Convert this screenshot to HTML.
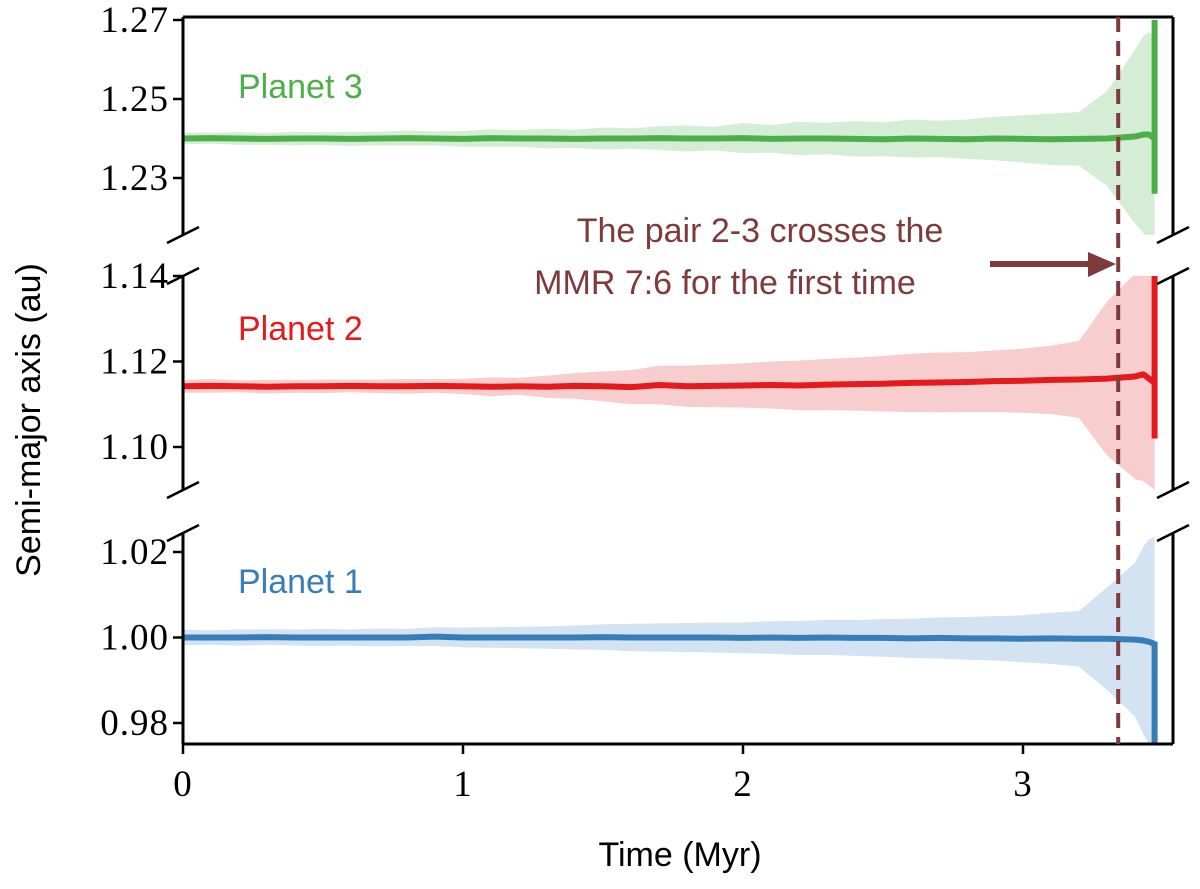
<!DOCTYPE html>
<html><head><meta charset="utf-8"><style>
body{margin:0;background:#fff;width:1200px;height:884px;overflow:hidden}
svg text{font-family:"Liberation Sans",sans-serif}
svg text.tk{font-family:"Liberation Serif",serif;font-size:37px;letter-spacing:1px}
</style></head><body>
<svg id="chart" width="1200" height="884"></svg>
<script>
const times=[0,0.1,0.2,0.3,0.4,0.5,0.6,0.7,0.8,0.9,1.0,1.1,1.2,1.3,1.4,1.5,1.6,1.7,1.8,1.9,2.0,2.1,2.2,2.3,2.4,2.5,2.6,2.7,2.8,2.9,3.0,3.1,3.2,3.3,3.4,3.43,3.45,3.47];
const p3Mean=[1.240,1.2401,1.240,1.2399,1.240,1.240,1.2399,1.240,1.2401,1.240,1.2399,1.2401,1.240,1.240,1.2399,1.240,1.240,1.2401,1.240,1.240,1.2401,1.2399,1.240,1.240,1.2399,1.2398,1.240,1.2399,1.2398,1.240,1.2399,1.2398,1.2399,1.2400,1.2405,1.2410,1.2410,1.2400];
const p3Spread=[0.0015,0.0014,0.0016,0.0015,0.0017,0.0016,0.0018,0.0017,0.0019,0.0018,0.002,0.0022,0.0021,0.0025,0.0023,0.0028,0.0026,0.003,0.0033,0.003,0.0038,0.0035,0.0042,0.004,0.0045,0.0043,0.0048,0.0046,0.005,0.0055,0.006,0.0065,0.0068,0.012,0.022,0.025,0.026,0.026];
const p2Mean=[1.1142,1.1143,1.1142,1.1141,1.1142,1.1142,1.1143,1.1142,1.1142,1.1143,1.1142,1.1141,1.1142,1.1141,1.1143,1.1142,1.1140,1.1145,1.1142,1.1143,1.1144,1.1145,1.1144,1.1146,1.1147,1.1148,1.1150,1.1151,1.1152,1.1154,1.1155,1.1157,1.1158,1.1160,1.1165,1.1170,1.1160,1.1150];
const p2Spread=[0.0015,0.0016,0.0014,0.0016,0.0015,0.0016,0.0015,0.0016,0.0017,0.0016,0.0018,0.0022,0.0020,0.0026,0.0030,0.0035,0.0040,0.0045,0.0048,0.005,0.0052,0.0055,0.0058,0.006,0.0062,0.0065,0.0068,0.007,0.007,0.0072,0.0075,0.008,0.009,0.018,0.024,0.025,0.025,0.025];
const p1Mean=[1,1,1,1.0001,1,1,1,1,1,1.0002,1,1,1,1,1,1.0001,1,1,1,1,0.9999,1,0.9999,1,0.9999,0.9999,0.9998,0.9999,0.9998,0.9998,0.9997,0.9998,0.9997,0.9997,0.9995,0.9993,0.9990,0.9985];
const p1Spread=[0.0018,0.0017,0.0019,0.0018,0.0019,0.002,0.0019,0.0021,0.002,0.0022,0.0023,0.0024,0.0025,0.0026,0.0028,0.003,0.0032,0.0033,0.0034,0.0035,0.0036,0.0038,0.004,0.0041,0.0042,0.0044,0.0046,0.0048,0.005,0.0052,0.0055,0.006,0.0065,0.012,0.018,0.022,0.024,0.025];
const spikeTime=3.47;
const p3Spike=[1.226,1.27];
const p2Spike=[1.102,1.14];
const p1Spike=[0.975,0.999];
const crossTime=3.34;
const xTicks=[0,1,2,3];
const p3Ticks=["1.27","1.25","1.23"];
const p2Ticks=["1.14","1.12","1.10"];
const p1Ticks=["1.02","1.00","0.98"];

const NS="http://www.w3.org/2000/svg";
const svg=document.getElementById('chart');
function mk(tag,attrs,parent){const e=document.createElementNS(NS,tag);for(const k in attrs)e.setAttribute(k,attrs[k]);(parent||svg).appendChild(e);return e;}
const X0=183,X1=1173;
const xs=t=>X0+t*280;
const panels=[
 {name:'planet-3',top:17,bot:235,pxPer:3950,ref:1.27,refY:20,mean:p3Mean,spread:p3Spread,spike:p3Spike,ticks:p3Ticks,col:'#4daf4a',light:'#d6edd5',label:'Planet 3',ly:98},
 {name:'planet-2',top:276,bot:490,pxPer:4275,ref:1.14,refY:276,mean:p2Mean,spread:p2Spread,spike:p2Spike,ticks:p2Ticks,col:'#e41a1c',light:'#f8cdcd',label:'Planet 2',ly:340},
 {name:'planet-1',top:533,bot:744,pxPer:4275,ref:1.02,refY:552,mean:p1Mean,spread:p1Spread,spike:p1Spike,ticks:p1Ticks,col:'#377eb8',light:'#d4e3f1',label:'Planet 1',ly:593}
];
const defs=mk('defs',{});
panels.forEach((p,i)=>{
 const ys=v=>p.refY+(p.ref-v)*p.pxPer;
 const cp=mk('clipPath',{id:'c'+i},defs);mk('rect',{x:X0,y:p.top,width:X1-X0,height:p.bot-p.top},cp);
 const g=mk('g',{'clip-path':'url(#c'+i+')'});
 
 
 let up=[],lo=[],mn=[];
 times.forEach((t,j)=>{up.push(xs(t)+','+ys(p.mean[j]+p.spread[j]));lo.unshift(xs(t)+','+ys(p.mean[j]-p.spread[j]));mn.push(xs(t)+','+ys(p.mean[j]));});
 const band=mk('polygon',{points:up.concat(lo).join(' '),fill:p.light},g);
 
 
 const ln=mk('polyline',{points:mn.join(' '),fill:'none',stroke:p.col,'stroke-width':6,'stroke-linejoin':'round'},g);
 
 
 const sp=mk('line',{x1:xs(spikeTime),x2:xs(spikeTime),y1:ys(p.spike[0]),y2:ys(p.spike[1]),stroke:p.col,'stroke-width':6},g);
 
 
 mk('line',{x1:X0,x2:X0,y1:p.top,y2:p.bot,stroke:'#000','stroke-width':3});
 mk('line',{x1:X1,x2:X1,y1:p.top,y2:p.bot,stroke:'#000','stroke-width':3});
 if(i==0)mk('line',{x1:X0,x2:X1,y1:p.top,y2:p.top,stroke:'#000','stroke-width':3});
 if(i==2)mk('line',{x1:X0,x2:X1,y1:p.bot,y2:p.bot,stroke:'#000','stroke-width':3});
 if(i>0){[X0,X1].forEach(x=>mk('line',{x1:x-16,y1:p.top+8,x2:x+16,y2:p.top-8,stroke:'#000','stroke-width':2.5}));}
 if(i<2){[X0,X1].forEach(x=>mk('line',{x1:x-16,y1:p.bot+8,x2:x+16,y2:p.bot-8,stroke:'#000','stroke-width':2.5}));}
 p.ticks.forEach(s=>{const y=ys(parseFloat(s));mk('line',{x1:X0-10,x2:X0,y1:y,y2:y,stroke:'#000','stroke-width':2.5});
  const t=mk('text',{x:X0-14,y:y+12,'text-anchor':'end',class:'tk'});t.textContent=s;
  
  });
 const lab=mk('text',{x:238,y:p.ly,'font-size':34,fill:p.col});lab.textContent=p.label;
 
 
});
xTicks.forEach(v=>{const x=xs(v);mk('line',{x1:x,x2:x,y1:744,y2:754,stroke:'#000','stroke-width':2.5});
 const t=mk('text',{x:x,y:796,'text-anchor':'middle',class:'tk'});t.textContent=v;
 
 });
const dl=mk('line',{x1:xs(crossTime),x2:xs(crossTime),y1:17,y2:744,stroke:'#7f3b3b','stroke-width':4,'stroke-dasharray':'15,9'});


const ar=mk('line',{x1:990,x2:1092,y1:264,y2:264,stroke:'#7f3b3b','stroke-width':6});


mk('polygon',{points:'1088,252 1116,264 1088,277',fill:'#7f3b3b'});
const a1=mk('text',{x:760,y:242,'text-anchor':'middle','font-size':34,fill:'#7f3b3b'});a1.textContent='The pair 2-3 crosses the';


const a2=mk('text',{x:725,y:294,'text-anchor':'middle','font-size':34,fill:'#7f3b3b'});a2.textContent='MMR 7:6 for the first time';


const xl=mk('text',{x:680,y:866,'text-anchor':'middle','font-size':34});xl.textContent='Time (Myr)';


const yl=mk('text',{x:0,y:0,'text-anchor':'middle','font-size':34,transform:'translate(40,420) rotate(-90)'});yl.textContent='Semi-major axis (au)';


</script>
</body></html>
